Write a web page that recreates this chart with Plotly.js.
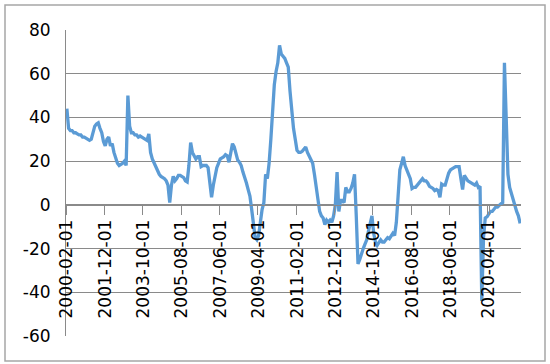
<!DOCTYPE html>
<html>
<head>
<meta charset="utf-8">
<script src="https://cdn.plot.ly/plotly-3.0.1.min.js"></script>
<style>html,body{margin:0;padding:0;background:#fff;}#chart{width:550px;height:364px;}</style>
</head>
<body>
<div id="chart"></div>
<script>
// Monthly categories 2000-02 .. 2021-10
const startYear = 2000, startMonth = 2, monthCount = 261;
const categories = [];
for (let k = 0; k < monthCount; k++) {
  const m0 = startMonth - 1 + k;
  const y = startYear + Math.floor(m0 / 12);
  const m = (m0 % 12) + 1;
  categories.push(y + '-' + String(m).padStart(2, '0') + '-01');
}

const values = [
  44, 35, 34, 34, 33, 33, 32.5, 32, 32, 31,
  31, 30.5, 30, 29.5, 30, 33, 36, 37, 37.5, 35,
  33, 29, 27, 30, 31, 27, 28, 24, 21, 19,
  18, 18.5, 19, 20, 18, 50, 36, 33, 33, 32,
  32, 31, 31.5, 31, 30.5, 30, 29.5, 32.5, 24, 21,
  19, 18, 15, 14, 13, 12.5, 12, 11, 9, 1,
  9, 13, 11, 12, 13.5, 13.5, 13, 12.5, 11, 10.5,
  18, 28.5, 24, 22, 21, 22, 22, 17.5, 18, 18,
  18, 17, 10, 3.5, 9, 13, 17, 19, 21, 21.5,
  22, 23, 22.5, 19.5, 23, 28, 26.5, 24, 20.5, 19.5,
  18, 15, 13, 10, 7, 4, -2, -10, -15, -16,
  -14, -8, -2, 1, 14, 12, 19, 30, 42, 55,
  61, 65, 73, 69, 68, 67, 65, 63, 52, 43,
  35, 30, 25, 24, 24, 24.5, 25.5, 26.5, 24, 22.5,
  21, 19, 14, 9, 3, -3, -5, -6, -9, -7,
  -8, -7, -8, -5, 0, 15, -3, 2, 2, 1,
  8, 6, 6, 7.5, 10, 14, -5, -27, -25, -22,
  -20, -18, -16, -12, -8, -5, -13, -17, -18.5, -17,
  -16, -17, -17, -16, -15, -15.5, -14, -13, -14, -8,
  4, 16, 19, 22, 18, 16, 13, 12, 7.5, 8,
  8, 9, 9.5, 11, 12, 11, 11, 10, 8.5, 8,
  7.5, 6.5, 7, 6.5, 3.5, 9.5, 9, 9, 12, 14.5,
  16, 16.5, 17, 17.5, 17.5, 17.5, 12, 7, 13.5, 12,
  11, 10.5, 10, 9.5, 9, 10, 8, 8.5, -44, -15,
  -6, -5.5, -4, -3, -3, -2, -1, -1, 0, 0.5,
  1, 65, 40, 14, 8, 5, 2, -1, -3, -5,
  -8.5
];

const xTickLabels = ['2000-02-01','2001-12-01','2003-10-01','2005-08-01','2007-06-01','2009-04-01',
  '2011-02-01','2012-12-01','2014-10-01','2016-08-01','2018-06-01','2020-04-01'];
const yTickValues = [-60, -40, -20, 0, 20, 40, 60, 80];
const yTickLabels = ['-60', '-40', '-20', '0', '20', '40', '60', '80'];

const gridGray = '#8a8a8a';
const fontSpec = {family: 'DejaVu Sans', size: 17, color: '#000'};

const trace = {
  x: categories,
  y: values,
  type: 'scatter',
  mode: 'lines',
  line: {color: '#5b9bd5', width: 3.3},
  hoverinfo: 'skip'
};

const layout = {
  width: 550, height: 364,
  margin: {l: 66, r: 29, t: 30, b: 28},
  paper_bgcolor: '#fff', plot_bgcolor: '#fff',
  showlegend: false,
  font: fontSpec,
  xaxis: {
    type: 'category',
    range: [-0.5, monthCount - 0.5],
    tickmode: 'array',
    tickvals: xTickLabels,
    ticktext: xTickLabels,
    tickson: 'boundaries',
    ticks: 'outside', ticklen: 9, tickcolor: gridGray, tickwidth: 1,
    tickangle: -90,
    ticklabelstandoff: 7,
    tickfont: fontSpec,
    showgrid: false,
    zeroline: false,
    showline: true, linecolor: gridGray, linewidth: 1,
    anchor: 'free',
    position: 60 / 140
  },
  yaxis: {
    range: [-60, 80],
    tickmode: 'array',
    tickvals: yTickValues,
    ticktext: yTickLabels,
    ticks: '',
    ticklabelstandoff: 11,
    tickfont: fontSpec,
    showgrid: true, gridcolor: gridGray, gridwidth: 1,
    zeroline: false,
    showline: true, linecolor: gridGray, linewidth: 1
  },
  shapes: [{
    type: 'rect', xref: 'paper', yref: 'paper',
    x0: (5 - 66) / 455, x1: (545 - 66) / 455,
    y0: (336 - 361) / 306, y1: (336 - 5) / 306,
    line: {color: '#a6a6a6', width: 1.5},
    fillcolor: 'rgba(0,0,0,0)', layer: 'below'
  }]
};

Plotly.newPlot('chart', [trace], layout, {staticPlot: true, displayModeBar: false});
</script>
</body>
</html>
